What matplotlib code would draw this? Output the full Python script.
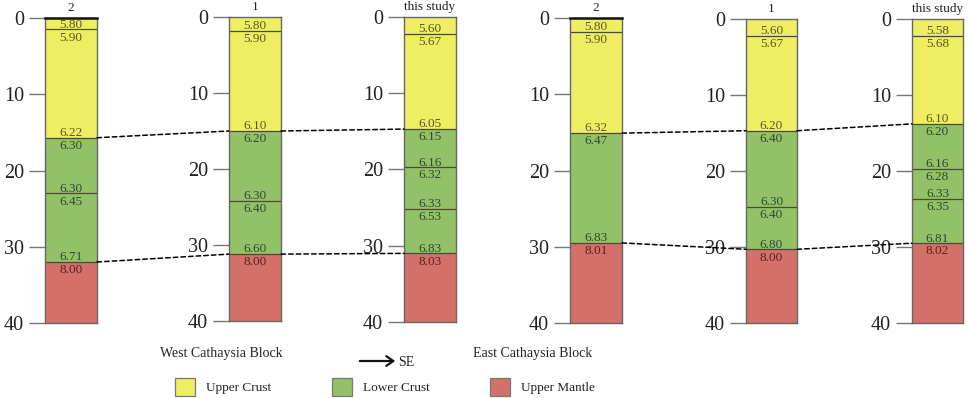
import matplotlib
matplotlib.use("Agg")
import matplotlib.pyplot as plt
from matplotlib.patches import ConnectionPatch, Rectangle, FancyArrowPatch

# ---------------- data ----------------
headers = ["2", "1", "this study", "2", "1", "this study"]
blocks = ["West Cathaysia Block", "East Cathaysia Block"]
conrad = [15.7, 15.0, 14.7, 15.1, 14.7, 13.8]      # base of upper crust (km)
moho = [32.0, 31.2, 31.0, 29.5, 30.3, 29.5]        # base of lower crust (km)

bounds_w2 = [1.5, 15.7, 23.0, 32.0]
above_w2 = [5.80, 6.22, 6.30, 6.71]
below_w2 = [5.90, 6.30, 6.45, 8.00]

bounds_w1 = [1.8, 15.0, 24.2, 31.2]
above_w1 = [5.80, 6.10, 6.30, 6.60]
below_w1 = [5.90, 6.20, 6.40, 8.00]

bounds_w0 = [2.2, 14.7, 19.7, 25.2, 31.0]
above_w0 = [5.60, 6.05, 6.16, 6.33, 6.83]
below_w0 = [5.67, 6.15, 6.32, 6.53, 8.03]

bounds_e2 = [1.8, 15.1, 29.5]
above_e2 = [5.80, 6.32, 6.83]
below_e2 = [5.90, 6.47, 8.01]

bounds_e1 = [2.2, 14.7, 24.7, 30.3]
above_e1 = [5.60, 6.20, 6.30, 6.80]
below_e1 = [5.67, 6.40, 6.40, 8.00]

bounds_e0 = [2.2, 13.8, 19.7, 23.7, 29.5]
above_e0 = [5.58, 6.10, 6.16, 6.33, 6.81]
below_e0 = [5.68, 6.20, 6.28, 6.35, 8.02]

depth_ticks = [0, 10, 20, 30, 40]
legend_labels = ["Upper Crust", "Lower Crust", "Upper Mantle"]

columns = [
    (bounds_w2, above_w2, below_w2),
    (bounds_w1, above_w1, below_w1),
    (bounds_w0, above_w0, below_w0),
    (bounds_e2, above_e2, below_e2),
    (bounds_e1, above_e1, below_e1),
    (bounds_e0, above_e0, below_e0),
]

# ---------------- style ----------------
SERIF = "Liberation Serif"
C_UP, C_LO, C_MA = "#efed62", "#92c168", "#d4706a"
T_UP, T_LO, T_MA = "#5a5a1c", "#2f4a2f", "#5c2020"

W, H = 969, 398
fig = plt.figure(figsize=(W / 100, H / 100), dpi=100)

box_x = [(45, 97), (229, 281), (404, 456), (570, 622), (746, 797), (912, 963)]
box_y = [(18, 323), (17, 321), (17, 322), (18, 323), (19, 323), (19, 323)]


def layer_text_color(d, i):
    if d < conrad[i]:
        return T_UP
    if d < moho[i]:
        return T_LO
    return T_MA


axes = []
for i, (bnds, abv, blw) in enumerate(columns):
    x0, x1 = box_x[i]
    y0, y1 = box_y[i]
    ax = fig.add_axes([x0 / W, 1 - y1 / H, (x1 - x0) / W, (y1 - y0) / H])
    ax.set_xlim(0, 1)
    ax.set_ylim(40, 0)
    ax.bar(0.5, conrad[i], bottom=0, width=1, color=C_UP, edgecolor="none")
    ax.bar(0.5, moho[i] - conrad[i], bottom=conrad[i], width=1, color=C_LO, edgecolor="none")
    ax.bar(0.5, 40 - moho[i], bottom=moho[i], width=1, color=C_MA, edgecolor="none")
    for b in bnds:
        ax.axhline(b, color="#4a4a36", lw=0.9)
    for b, va_, vb_ in zip(bnds, abv, blw):
        ax.annotate(f"{va_:.2f}", xy=(0.5, b), xycoords=("axes fraction", "data"),
                    xytext=(0, 1.2), textcoords="offset points", ha="center",
                    va="baseline", fontsize=9.5, family=SERIF,
                    color=layer_text_color(b - 0.01, i))
        ax.annotate(f"{vb_:.2f}", xy=(0.5, b), xycoords=("axes fraction", "data"),
                    xytext=(0, -1.6), textcoords="offset points", ha="center",
                    va="top", fontsize=9.5, family=SERIF,
                    color=layer_text_color(b + 0.01, i))
    for s in ax.spines.values():
        s.set_color("#666666")
        s.set_linewidth(1.0)
    if i in (0, 3):
        ax.spines["top"].set_color("#111111")
        ax.spines["top"].set_linewidth(1.8)
    ax.set_xticks([])
    ax.set_yticks(depth_ticks)
    ax.set_yticklabels([str(t) for t in depth_ticks], family=SERIF)
    ax.tick_params(axis="y", length=11.5, width=1.0, color="#777777",
                   labelsize=14.5, pad=3.5, labelcolor="#222222")
    ax.annotate(headers[i], xy=(0.5, 1), xycoords="axes fraction",
                xytext=(0, 3.0), textcoords="offset points", ha="center",
                va="bottom", fontsize=9.5, family=SERIF, color="#222222")
    axes.append(ax)

# dashed correlation lines
for a, b in [(0, 1), (1, 2), (3, 4), (4, 5)]:
    for arr in (conrad, moho):
        con = ConnectionPatch(xyA=(1, arr[a]), coordsA=axes[a].transData,
                              xyB=(0, arr[b]), coordsB=axes[b].transData,
                              color="black", lw=1.1, linestyle=(0, (3, 2)))
        fig.add_artist(con)


def fx(x):
    return x / W


def fy(y):
    return 1 - y / H


# block labels
fig.text(fx(221), fy(353), blocks[0], ha="center", va="center",
         fontsize=10, family=SERIF, color="#222222")
fig.text(fx(533), fy(353), blocks[1], ha="center", va="center",
         fontsize=10, family=SERIF, color="#222222")

# arrow SE
fig.add_artist(FancyArrowPatch(
    (fx(357), fy(361)), (fx(398), fy(361)), transform=fig.transFigure,
    arrowstyle="->,head_length=5,head_width=3.5", lw=1.6, color="#111111"))
fig.text(fx(398), fy(362), "SE", ha="left", va="center", fontsize=10,
         family=SERIF, color="#222222")

# legend
leg_patch_x = [175, 332, 490]
leg_colors = [C_UP, C_LO, C_MA]
for px, lab, col in zip(leg_patch_x, legend_labels, leg_colors):
    fig.add_artist(Rectangle((fx(px), fy(396)), 20 / W, 18 / H,
                             transform=fig.transFigure, facecolor=col,
                             edgecolor="#777777", lw=0.9))
    fig.text(fx(px + 31), fy(388), lab, ha="left", va="center",
             fontsize=9.5, family=SERIF, color="#222222")

fig.savefig("out.png", dpi=100)
